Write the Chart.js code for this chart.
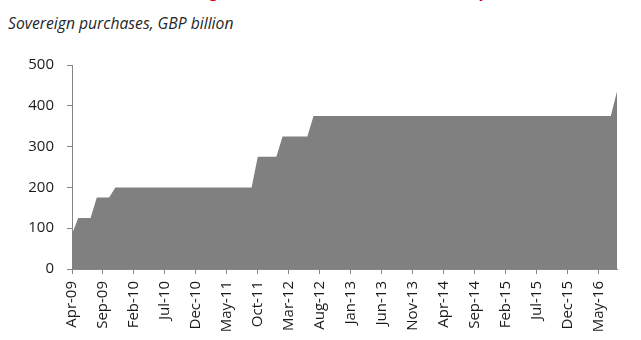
<!DOCTYPE html>
<html>
<head>
<meta charset="utf-8">
<script src="https://cdn.jsdelivr.net/npm/chart.js@4/dist/chart.umd.min.js"></script>
<style>
  html, body { margin: 0; padding: 0; background: #ffffff; width: 641px; height: 340px; overflow: hidden; }
  #wrap { position: relative; width: 641px; height: 340px; overflow: hidden; }
  #title { position: absolute; left: 0; top: -19px; white-space: nowrap; font-family: "Open Sans", sans-serif; font-weight: bold; font-size: 17px; line-height: 20px; color: #e00000; }
  #subtitle { position: absolute; left: 8px; top: 12px; white-space: nowrap; font-family: "Open Sans", sans-serif; font-style: italic; font-size: 15.7px; line-height: 22px; color: #262626; }
  canvas { position: absolute; left: 0; top: 0; }
</style>
</head>
<body>
<div id="wrap">
  <div id="title"><span id="t1">Bank of En</span><span id="tg">g</span><span id="t2">land's balance sheet: total asset </span><span id="tp">p</span><span id="t3">urchases</span></div>
  <div id="subtitle">Sovereign purchases, GBP billion</div>
  <canvas id="c" width="641" height="340"></canvas>
</div>
<script>
// Month categories (Apr-09 to Aug-16)
const months = [
  'Apr-09','May-09','Jun-09','Jul-09','Aug-09','Sep-09','Oct-09','Nov-09','Dec-09',
  'Jan-10','Feb-10','Mar-10','Apr-10','May-10','Jun-10','Jul-10','Aug-10','Sep-10','Oct-10','Nov-10','Dec-10',
  'Jan-11','Feb-11','Mar-11','Apr-11','May-11','Jun-11','Jul-11','Aug-11','Sep-11','Oct-11','Nov-11','Dec-11',
  'Jan-12','Feb-12','Mar-12','Apr-12','May-12','Jun-12','Jul-12','Aug-12','Sep-12','Oct-12','Nov-12','Dec-12',
  'Jan-13','Feb-13','Mar-13','Apr-13','May-13','Jun-13','Jul-13','Aug-13','Sep-13','Oct-13','Nov-13','Dec-13',
  'Jan-14','Feb-14','Mar-14','Apr-14','May-14','Jun-14','Jul-14','Aug-14','Sep-14','Oct-14','Nov-14','Dec-14',
  'Jan-15','Feb-15','Mar-15','Apr-15','May-15','Jun-15','Jul-15','Aug-15','Sep-15','Oct-15','Nov-15','Dec-15',
  'Jan-16','Feb-16','Mar-16','Apr-16','May-16','Jun-16','Jul-16','Aug-16'
];

// Cumulative sovereign purchases, GBP billion
const purchases = [
  85,125,125,125,175,175,175,200,200,
  200,200,200,200,200,200,200,200,200,200,200,200,
  200,200,200,200,200,200,200,200,200,275,275,275,
  275,325,325,325,325,325,375,375,375,375,375,375,
  375,375,375,375,375,375,375,375,375,375,375,375,
  375,375,375,375,375,375,375,375,375,375,375,375,
  375,375,375,375,375,375,375,375,375,375,375,375,
  375,375,375,375,375,375,375,435
];

// Labelled x ticks (every fifth month)
const xTickLabels = ['Apr-09','Sep-09','Feb-10','Jul-10','Dec-10','May-11','Oct-11','Mar-12','Aug-12','Jan-13','Jun-13','Nov-13','Apr-14','Sep-14','Feb-15','Jul-15','Dec-15','May-16'];
// y ticks
const yTicks = [0, 100, 200, 300, 400, 500];

const axisColor = '#868686';
const tickFont = { family: 'Open Sans', size: 15 };
const labelColor = '#1a1a1a';

new Chart(document.getElementById('c'), {
  type: 'line',
  data: {
    labels: months,
    datasets: [{
      data: purchases,
      fill: 'origin',
      backgroundColor: '#808080',
      borderColor: '#808080',
      borderWidth: 0,
      pointRadius: 0,
      tension: 0
    }]
  },
  options: {
    responsive: false,
    animation: false,
    events: [],
    plugins: { legend: { display: false }, tooltip: { enabled: false } },
    layout: { padding: { top: 65, right: 24, left: 0, bottom: 0 } },
    scales: {
      x: {
        type: 'category',
        offset: false,
        grid: { drawOnChartArea: false, drawTicks: true, tickLength: 5, color: axisColor, lineWidth: 1 },
        border: { display: true, color: axisColor, width: 1 },
        ticks: { autoSkip: false, minRotation: 90, maxRotation: 90, padding: 7, font: tickFont, color: labelColor },
        afterBuildTicks: (s) => { s.ticks = s.ticks.filter(t => xTickLabels.includes(months[t.value])); },
        afterFit: (s) => { s.height = 71; }
      },
      y: {
        min: 0, max: 500,
        afterBuildTicks: (s) => { s.ticks = yTicks.map(v => ({ value: v })); },
        grid: { drawOnChartArea: false, drawTicks: true, tickLength: 5, color: axisColor, lineWidth: 1 },
        border: { display: true, color: axisColor, width: 1 },
        ticks: { padding: 13, font: tickFont, color: labelColor },
        afterFit: (s) => { s.width = 72; }
      }
    }
  }
});

// place the (cropped) title so its descenders sit where the reference shows them
(function () {
  const t = document.getElementById('title');
  const g = document.getElementById('tg');
  const p = document.getElementById('tp');
  const d = p.offsetLeft - g.offsetLeft;
  const fs = 17 * 270 / d;
  t.style.fontSize = fs.toFixed(2) + 'px';
  t.style.left = (209 - g.offsetLeft) + 'px';
})();
</script>
</body>
</html>
